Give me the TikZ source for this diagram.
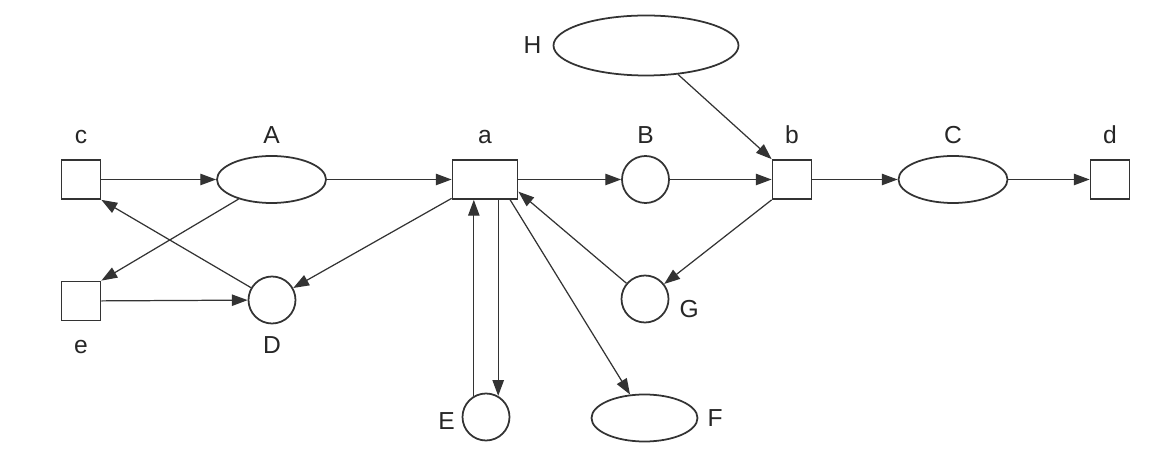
\documentclass[tikz,border=0pt]{standalone}
\usepackage{fontspec}
\setmainfont{Liberation Sans}
\usetikzlibrary{positioning,arrows.meta,shapes.geometric}

\begin{document}
\begin{tikzpicture}[
    trans/.style={rectangle, draw=black!80, line width=1pt, minimum width=0.78cm, minimum height=0.78cm, inner sep=0pt},
    wide/.style={trans, minimum width=1.3cm},
    place/.style={ellipse, draw=black!80, line width=1pt, minimum width=2.18cm, minimum height=0.94cm, inner sep=0pt},
    circ/.style={circle, draw=black!80, line width=1pt, minimum size=0.94cm, inner sep=0pt},
    arrow/.style={-{Triangle[length=9pt,width=6.5pt]}, line width=0.7pt, draw=black!80},
    lbl/.style={inner sep=0pt, text=black!85, font=\fontsize{14}{16}\selectfont}
]
\useasboundingbox (0,0) rectangle (23.42,-9.28);

% --- Main row ---
\node[trans] (c) at (1.62,-3.59) {};
\node[place] (A) at (5.43,-3.59) {};
\node[wide] (a) at (9.70,-3.59) {};
\node[circ] (B) at (12.91,-3.59) {};
\node[trans] (b) at (15.84,-3.59) {};
\node[place] (C) at (19.06,-3.59) {};
\node[trans] (d) at (22.20,-3.59) {};

% --- Other nodes ---
\node[place, minimum width=3.7cm, minimum height=1.2cm] (H) at (12.92,-0.91) {};
\node[trans] (e) at (1.62,-6.02) {};
\node[circ] (D) at (5.44,-6.00) {};
\node[circ] (G) at (12.90,-5.98) {};
\node[circ] (E) at (9.72,-8.34) {};
\node[place, minimum width=2.12cm] (F) at (12.89,-8.36) {};

% --- Labels ---
\node[lbl, above=0.32cm of c, anchor=base] (lc) {c};
\node[lbl, above=0.24cm of A, anchor=base] (lA) {A};
\node[lbl, above=0.32cm of a, anchor=base] (la) {a};
\node[lbl, above=0.24cm of B, anchor=base] (lB) {B};
\node[lbl, above=0.32cm of b, anchor=base] (lb) {b};
\node[lbl, above=0.24cm of C, anchor=base] (lC) {C};
\node[lbl, above=0.32cm of d, anchor=base] (ld) {d};
\node[lbl, left=0.22cm of H] (lH) {H};
\node[lbl, below=0.64cm of e, anchor=base] (le) {e};
\node[lbl, below=0.58cm of D, anchor=base] (lD) {D};
\node[lbl, right=0.2cm of G, yshift=-0.2cm] (lG) {G};
\node[lbl, left=0.13cm of E, yshift=-0.08cm] (lE) {E};
\node[lbl, right=0.18cm of F] (lF) {F};

% --- Arcs ---
\draw[arrow] (c) -- (A);
\draw[arrow] (A) -- (a);
\draw[arrow] (a) -- (B);
\draw[arrow] (B) -- (b);
\draw[arrow] (b) -- (C);
\draw[arrow] (C) -- (d);
\draw[arrow] (H) -- (b.north west);
\draw[arrow] (b.south west) -- (G);
\draw[arrow] (G) -- (a.-20);
\draw[arrow] (a) -- (D);
\draw[arrow] (D) -- (c.south east);
\draw[arrow] (A) -- (e.north east);
\draw[arrow] (e) -- (D);
\draw[arrow] (E.120) -- (E.120 |- a.south);
\draw[arrow] (E.60 |- a.south) -- (E.60);
\draw[arrow] (a.-39) -- (F);

\end{tikzpicture}
\end{document}
